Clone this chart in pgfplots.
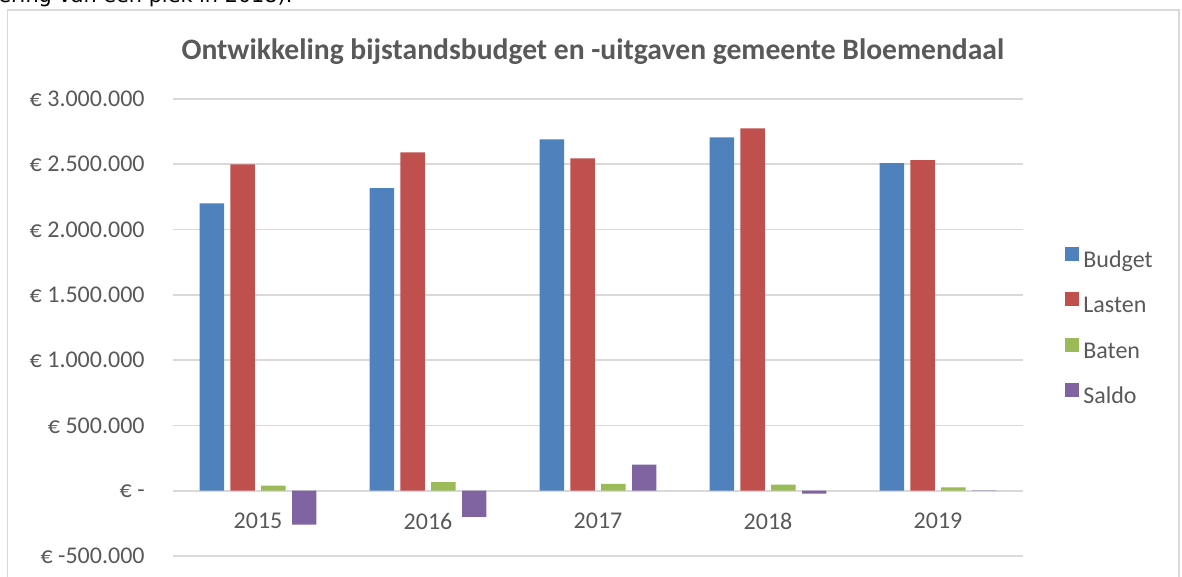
\documentclass[border=0pt]{standalone}
\usepackage{pgfplots}
\pgfplotsset{compat=1.18}
\usepackage{fontspec}
\setmainfont{Carlito}
\newfontfamily\bodyfont{DejaVu Sans}
\definecolor{budget}{HTML}{4F81BD}
\definecolor{lasten}{HTML}{C0504D}
\definecolor{baten}{HTML}{9BBB59}
\definecolor{saldo}{HTML}{8064A2}
\definecolor{txtgray}{HTML}{595959}
\definecolor{gridgray}{HTML}{D9D9D9}

\begin{document}
\begin{tikzpicture}
  % page = 1182 x 577 px at 0.5pt per px
  \useasboundingbox (0,0) rectangle (591pt,288.5pt);
  \clip (0,0) rectangle (591pt,288.5pt);
  \fill[white] (0,0) rectangle (591pt,288.5pt);
  % cut-off line of body text above the chart
  \node[anchor=base west, inner sep=0pt, font=\bodyfont\fontsize{10.4pt}{12pt}\selectfont]
    at (-1pt,287.3pt) {ering van een piek in 2018).};
  % chart frame
  \draw[gridgray, line width=0.8pt] (3.75pt,-5pt) -- (3.75pt,283.5pt) -- (589.5pt,283.5pt) -- (589.5pt,-5pt);

  \begin{axis}[
    at={(86.5pt,10.5pt)}, anchor=south west,
    scale only axis, width=425pt, height=228.5pt,
    ybar, bar width=12.2pt, ybar=3.2pt,
    xmin=-0.5, xmax=4.5,
    ymin=-500000, ymax=3000000,
    axis x line*=middle, axis y line*=left,
    axis line style={draw=none},
    major tick length=0pt, tick style={draw=none},
    xtick={0,1,2,3,4},
    xticklabels={2015,2016,2017,2018,2019},
    ytick={-500000,0,500000,1000000,1500000,2000000,2500000,3000000},
    yticklabels={{€ -500.000},{€ -},{€ 500.000},{€ 1.000.000},{€ 1.500.000},{€ 2.000.000},{€ 2.500.000},{€ 3.000.000}},
    scaled y ticks=false,
    ymajorgrids=true,
    major grid style={gridgray, line width=0.9pt},
    ticklabel style={font=\fontsize{12pt}{14pt}\selectfont, text=txtgray},
    xticklabel style={inner sep=0pt, anchor=north, yshift=-11pt},
    yticklabel style={inner sep=0pt, anchor=east, xshift=-14pt},
    title={Ontwikkeling bijstandsbudget en -uitgaven gemeente Bloemendaal},
    title style={font=\bfseries\fontsize{14.8pt}{17pt}\selectfont, text=txtgray,
                 at={(0.494,1)}, anchor=base, yshift=13.5pt},
    legend style={at={(1.0494,0.678)}, anchor=north west, draw=none, fill=none,
                  inner sep=0pt, row sep=8.5pt,
                  font=\fontsize{12pt}{14pt}\selectfont, text=txtgray,
                  nodes={text height=8pt, text depth=2pt, inner sep=2pt}},
    legend cell align=left,
    legend image code/.code={\fill[#1] (0pt,0.3pt) rectangle (7pt,7.3pt);},
  ]
    \addplot[fill=budget, draw=none] coordinates {(0,2200000) (1,2317000) (2,2691000) (3,2706000) (4,2508000)};
    \addlegendentry{Budget}
    \addplot[fill=lasten, draw=none] coordinates {(0,2500000) (1,2592000) (2,2546000) (3,2775000) (4,2531000)};
    \addlegendentry{Lasten}
    \addplot[fill=baten, draw=none] coordinates {(0,38000) (1,66000) (2,53000) (3,46000) (4,25000)};
    \addlegendentry{Baten}
    \addplot[fill=saldo, draw=none] coordinates {(0,-260000) (1,-201000) (2,199000) (3,-23000) (4,2000)};
    \addlegendentry{Saldo}
  \end{axis}
\end{tikzpicture}
\end{document}
